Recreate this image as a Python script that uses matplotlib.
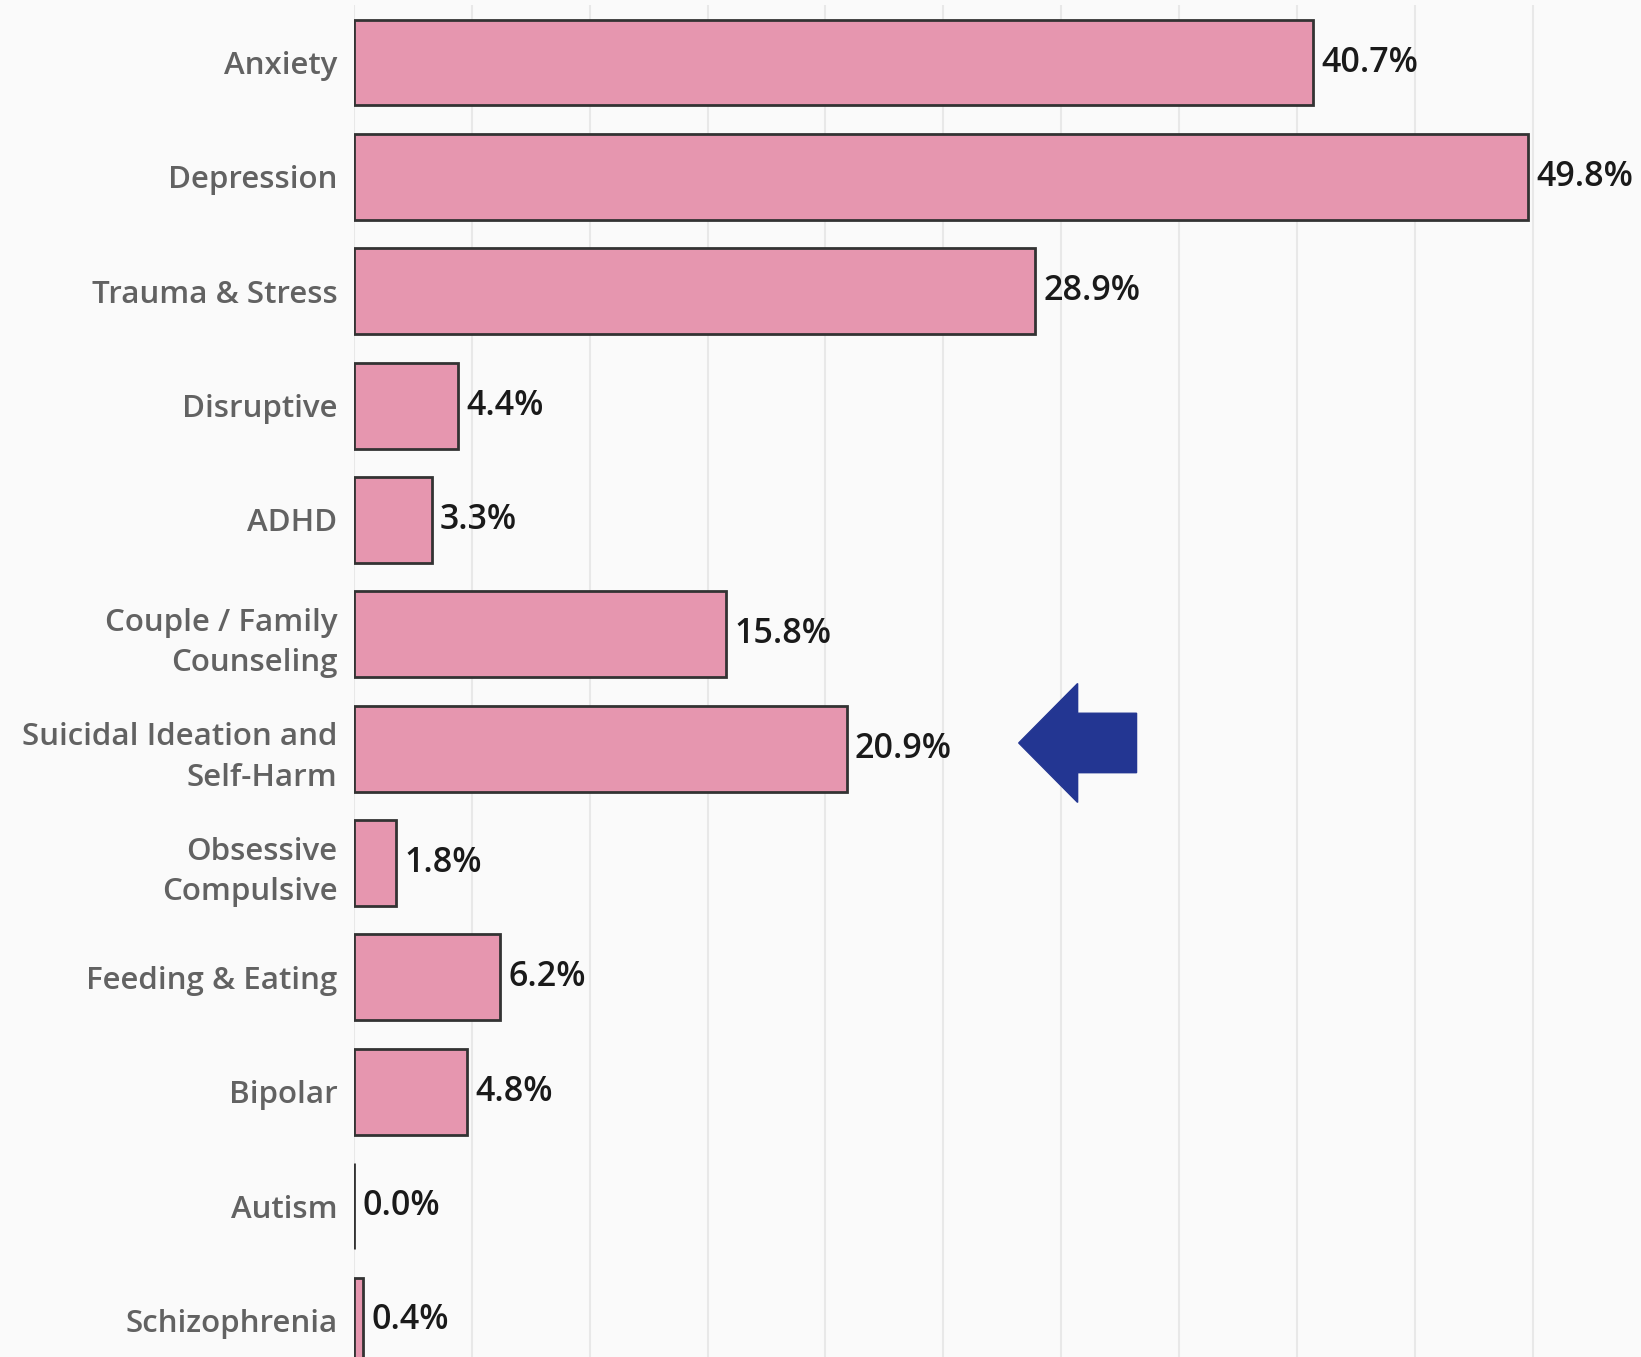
import numpy as np
from matplotlib import pyplot as plt

categories = ["Anxiety", "Depression", "Trauma & Stress", "Disruptive", "ADHD",
              "Couple / Family\nCounseling", "Suicidal Ideation and\nSelf-Harm",
              "Obsessive\nCompulsive", "Feeding & Eating", "Bipolar", "Autism",
              "Schizophrenia"]
percent = [40.7, 49.8, 28.9, 4.4, 3.3, 15.8, 20.9, 1.8, 6.2, 4.8, 0.0, 0.4]
highlight = "Suicidal Ideation and\nSelf-Harm"

plt.rcParams['font.family'] = ['Open Sans', 'DejaVu Sans']

fig = plt.figure(figsize=(16.41, 13.57), dpi=100)
fig.patch.set_facecolor("#fafafa")
ax = fig.add_axes([0.2157, 0.0, 0.7843, 0.996])
ax.set_facecolor("#fafafa")

y = np.arange(len(categories))
ax.barh(y, percent, height=0.75, color="#e696af", edgecolor="#333333",
        linewidth=2, zorder=3)

for yi, v in zip(y, percent):
    ax.text(v + 0.35, yi, f"{v:.1f}%", va="center", ha="left",
            fontsize=24.5, fontweight="semibold", color="#1a1a1a", zorder=4)

# arrow pointing at the highlighted bar
hi = categories.index(highlight)
ax.arrow(33.2, hi - 0.05, -5.0, 0, width=0.52, head_width=1.04,
         head_length=2.5, length_includes_head=True,
         color="#233692", zorder=5)

ax.set_xlim(0, 54.6)
ax.set_ylim(len(categories) - 1 + 0.32, -0.5)
ax.set_xticks(np.arange(0, 55, 5))
ax.xaxis.grid(True, color="#e8e8e8", linewidth=1.5, zorder=0)
ax.tick_params(axis="x", length=0, labelbottom=False)
ax.tick_params(axis="y", length=0, pad=12)
ax.set_yticks(y)
ax.set_yticklabels(categories, fontsize=22.5, fontweight="semibold",
                   color="#626262", linespacing=1.45)
for s in ax.spines.values():
    s.set_visible(False)

plt.savefig("out.png", dpi=100, facecolor=fig.get_facecolor())
